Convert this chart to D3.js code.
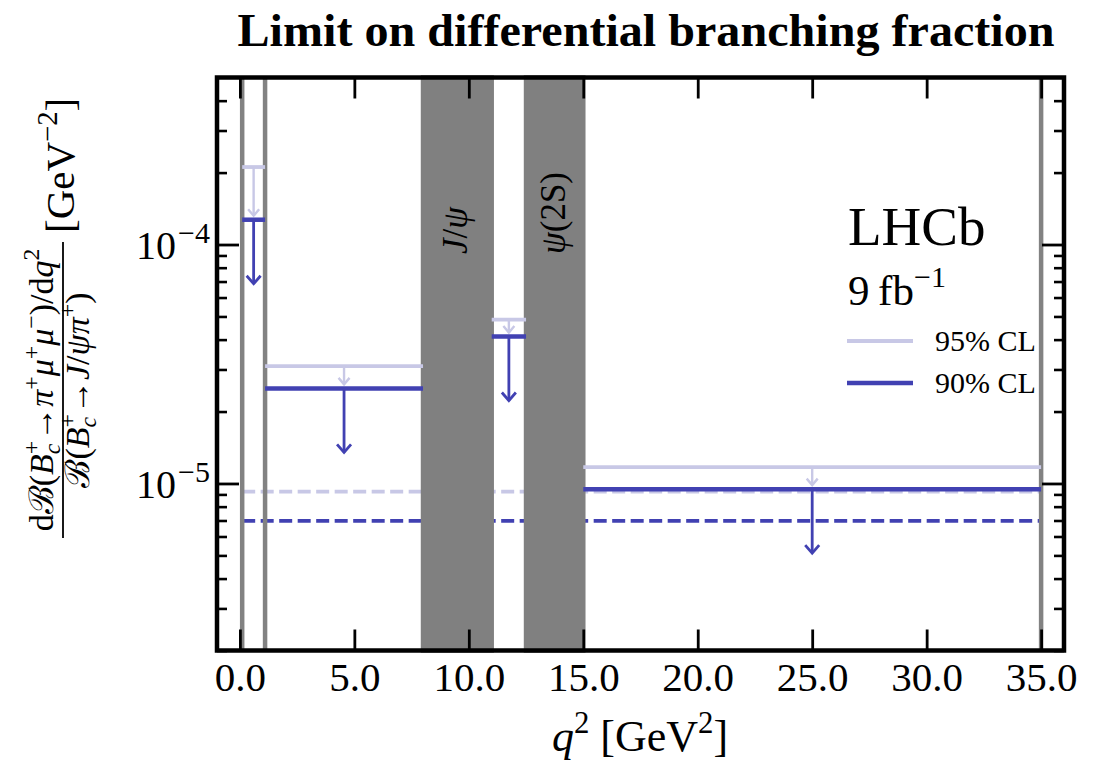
<!DOCTYPE html>
<html>
<head>
<meta charset="utf-8">
<script src="https://cdn.jsdelivr.net/npm/d3@7"></script>
<style>
  html, body { margin: 0; padding: 0; background: #fff; }
  svg { display: block; }
</style>
</head>
<body>
<svg id="chart" width="1101" height="766"></svg>
<script>
// q² bins [GeV²]
const binLow  = [0.1, 1.1, 11.0, 15.0];
const binHigh = [1.1, 8.0, 12.5, 35.0];
// upper limits on dB(Bc+ -> pi+ mu+ mu-)/dq² / B(Bc+ -> J/psi pi+) [GeV^-2]
const limit95 = [2.11e-4, 3.10e-5, 4.85e-5, 1.17e-5];
const limit90 = [1.27e-4, 2.50e-5, 4.12e-5, 9.47e-6];
// limits over the full q² range (dashed)
const fullRange = [0.1, 35.0];
const full95 = 9.25e-6;
const full90 = 6.97e-6;
// charmonium veto regions
const vetoLow    = [8.0, 12.5];
const vetoHigh   = [11.0, 15.0];
const vetoLabels = ["J/ψ", "ψ(2S)"];
// kinematic / bin boundaries drawn as grey lines
const boundaries = [0.1, 1.1, 35.0];
// axis ticks
const xTicks = [0, 5, 10, 15, 20, 25, 30, 35];
const xTickLabels = ["0.0", "5.0", "10.0", "15.0", "20.0", "25.0", "30.0", "35.0"];
const yTicks = [1e-5, 1e-4];
const yTickExp = ["−5", "−4"];
const yMinorTicks = [2e-6,3e-6,4e-6,5e-6,6e-6,7e-6,8e-6,9e-6,
                     2e-5,3e-5,4e-5,5e-5,6e-5,7e-5,8e-5,9e-5,
                     2e-4,3e-4,4e-4];
const legendLabels = ["95% CL", "90% CL"];

const SERIF = "'Liberation Serif', 'DejaVu Serif', serif";
const C90 = "#4141b2";
const C95 = "#c8c8e6";
const GREY = "#828282";
const ITALIC = new Set(["J", "ψ", "q", "B", "π", "μ", "c"]);

const svg = d3.select("#chart");
const x = d3.scaleLinear().domain([-1, 36]).range([217, 1064]);
const y = d3.scaleLog().domain([2e-6, 5e-4]).range([650.5, 77.5]);
const [xl, xr] = x.range();
const [yb, yt] = y.range();

// write a sequence of runs (base / sup / sub, optionally stacked) into a <text>
function writeRuns(text, runs, base) {
  let cur = 0, prevW = 0, pendingDx = 0;
  runs.forEach(r => {
    const pos = r.pos || "base";
    const size = pos === "base" ? base : base * 0.7;
    const off = pos === "sup" ? -0.42 * base : pos === "sub" ? 0.22 * base : 0;
    const ts = text.append("tspan")
      .attr("font-size", size)
      .attr("dy", off - cur);
    cur = off;
    let dx = pendingDx;
    pendingDx = 0;
    if (r.stack) dx -= prevW;
    if (dx) ts.attr("dx", dx);
    // italic for math symbols, upright for the rest
    for (const ch of r.t) {
      ts.append("tspan").attr("font-style", ITALIC.has(ch) ? "italic" : "normal").text(ch);
    }
    const w = ts.node().getComputedTextLength();
    if (r.stack && prevW > w) pendingDx = prevW - w;
    prevW = w;
  });
}

// dashed full-range limits
[[full95, C95], [full90, C90]].forEach(([v, c]) => {
  svg.append("line")
    .attr("x1", x(fullRange[0])).attr("x2", x(fullRange[1]))
    .attr("y1", y(v)).attr("y2", y(v))
    .attr("stroke", c).attr("stroke-width", 3.8)
    .attr("stroke-dasharray", "13,5.5");
});

// boundary lines
svg.selectAll(".bound").data(boundaries).join("line")
  .attr("x1", d => x(d)).attr("x2", d => x(d))
  .attr("y1", yb).attr("y2", yt)
  .attr("stroke", GREY).attr("stroke-width", 4.5);

// veto bands
svg.selectAll(".veto").data(vetoLow).join("rect")
  .attr("x", (d) => x(d))
  .attr("width", (d, i) => x(vetoHigh[i]) - x(d))
  .attr("y", yt).attr("height", yb - yt)
  .attr("fill", "#808080").attr("stroke", "#808080").attr("stroke-width", 4.5);

vetoLabels.forEach((lab, i) => {
  const cx = x((vetoLow[i] + vetoHigh[i]) / 2) + 10;
  const t = svg.append("text")
    .attr("transform", `translate(${cx},254) rotate(-90)`)
    .attr("font-family", SERIF).attr("fill", "#000");
  writeRuns(t, [{ t: lab }], 35);
});

// bin limits: bars and arrows
function chevron(cx, tip, hw, hh) {
  return `M${cx - hw},${tip - hh}L${cx},${tip}L${cx + hw},${tip - hh}`;
}
binLow.forEach((lo, i) => {
  const hi = binHigh[i];
  const cx = x((lo + hi) / 2);
  // 95% bar + arrow down to the 90% bar
  const y95 = y(limit95[i]), y90 = y(limit90[i]);
  svg.append("line").attr("x1", x(lo)).attr("x2", x(hi)).attr("y1", y95).attr("y2", y95)
    .attr("stroke", C95).attr("stroke-width", 3.8);
  const tip95 = y90 - 4;
  svg.append("line").attr("x1", cx).attr("x2", cx).attr("y1", y95).attr("y2", tip95)
    .attr("stroke", C95).attr("stroke-width", 2.4);
  svg.append("path").attr("d", chevron(cx, tip95, 5.5, 6.5))
    .attr("fill", "none").attr("stroke", C95).attr("stroke-width", 2.4);
  // 90% bar + arrow
  svg.append("line").attr("x1", x(lo)).attr("x2", x(hi)).attr("y1", y90).attr("y2", y90)
    .attr("stroke", C90).attr("stroke-width", 4.5);
  const tip90 = y90 + 64;
  svg.append("line").attr("x1", cx).attr("x2", cx).attr("y1", y90).attr("y2", tip90)
    .attr("stroke", C90).attr("stroke-width", 2.8);
  svg.append("path").attr("d", chevron(cx, tip90, 7, 8))
    .attr("fill", "none").attr("stroke", C90).attr("stroke-width", 2.8);
});

// axes (ticks inward)
const axB = svg.append("g").attr("transform", `translate(0,${yb})`)
  .call(d3.axisBottom(x).tickValues(xTicks).tickSize(-21).tickPadding(11)
    .tickFormat((d, i) => xTickLabels[i]));
const axT = svg.append("g").attr("transform", `translate(0,${yt})`)
  .call(d3.axisTop(x).tickValues(xTicks).tickSize(-21).tickFormat(""));
const axL = svg.append("g").attr("transform", `translate(${xl},0)`)
  .call(d3.axisLeft(y).tickValues(yTicks).tickSize(-22).tickPadding(7).tickFormat(""));
const axLm = svg.append("g").attr("transform", `translate(${xl},0)`)
  .call(d3.axisLeft(y).tickValues(yMinorTicks).tickSize(-10).tickFormat(""));
const axR = svg.append("g").attr("transform", `translate(${xr},0)`)
  .call(d3.axisRight(y).tickValues(yTicks).tickSize(-22).tickFormat(""));
const axRm = svg.append("g").attr("transform", `translate(${xr},0)`)
  .call(d3.axisRight(y).tickValues(yMinorTicks).tickSize(-10).tickFormat(""));

[axB, axT, axL, axLm, axR, axRm].forEach(g => {
  g.select(".domain").remove();
  g.selectAll(".tick line").attr("stroke", "#000").attr("stroke-width", 2.8);
});
axLm.selectAll(".tick line").attr("stroke-width", 2.6);
axRm.selectAll(".tick line").attr("stroke-width", 2.6);
axB.selectAll(".tick text").attr("font-family", SERIF).attr("font-size", 41).attr("fill", "#000");

// power-of-ten labels on the y axis
axL.selectAll(".tick").each(function (d, i) {
  const t = d3.select(this).append("text")
    .attr("x", -7).attr("y", 0).attr("dy", 14)
    .attr("text-anchor", "end")
    .attr("font-family", SERIF).attr("fill", "#000");
  t.append("tspan").attr("font-size", 40).text("10");
  t.append("tspan").attr("font-size", 30).attr("dy", -16).attr("dx", 2).text(yTickExp[i]);
});

// frame
svg.append("rect").attr("x", xl).attr("y", yt).attr("width", xr - xl).attr("height", yb - yt)
  .attr("fill", "none").attr("stroke", "#000").attr("stroke-width", 4.5);

// title
svg.append("text").attr("x", 646).attr("y", 46).attr("text-anchor", "middle")
  .attr("font-family", SERIF).attr("font-weight", "bold").attr("font-size", 46)
  .attr("textLength", 817).attr("lengthAdjust", "spacingAndGlyphs")
  .attr("fill", "#000").text("Limit on differential branching fraction");

// x-axis title
const xt = svg.append("text").attr("x", 640).attr("y", 751).attr("text-anchor", "middle")
  .attr("font-family", SERIF).attr("fill", "#000");
writeRuns(xt, [{ t: "q" }, { t: "2", pos: "sup" }, { t: " [GeV" }, { t: "2", pos: "sup" }, { t: "]" }], 44);

// y-axis title: fraction followed by unit
const yg = svg.append("g").attr("transform", "translate(63,390) rotate(-90)");
const num = yg.append("text").attr("x", 0).attr("y", -10).attr("text-anchor", "middle")
  .attr("font-family", SERIF).attr("fill", "#000");
writeRuns(num, [
  { t: "dℬ(B" }, { t: "+", pos: "sup" }, { t: "c", pos: "sub", stack: true },
  { t: "→π" }, { t: "+", pos: "sup" }, { t: "μ" }, { t: "+", pos: "sup" },
  { t: "μ" }, { t: "−", pos: "sup" }, { t: ")/dq" }, { t: "2", pos: "sup" }
], 34);
const den = yg.append("text").attr("x", 0).attr("y", 26).attr("text-anchor", "middle")
  .attr("font-family", SERIF).attr("fill", "#000");
writeRuns(den, [
  { t: "ℬ(B" }, { t: "+", pos: "sup" }, { t: "c", pos: "sub", stack: true },
  { t: "→J/ψπ" }, { t: "+", pos: "sup" }, { t: ")" }
], 34);
yg.append("line").attr("x1", -148).attr("x2", 148).attr("y1", 0).attr("y2", 0)
  .attr("stroke", "#000").attr("stroke-width", 1.8);
const unit = yg.append("text").attr("x", 157).attr("y", 11)
  .attr("font-family", SERIF).attr("fill", "#000");
writeRuns(unit, [{ t: "[GeV" }, { t: "−2", pos: "sup" }, { t: "]" }], 41);

// experiment label
svg.append("text").attr("x", 848).attr("y", 245).attr("font-family", SERIF)
  .attr("font-size", 55).attr("fill", "#000").text("LHCb");
const lumi = svg.append("text").attr("x", 848).attr("y", 305).attr("font-family", SERIF).attr("fill", "#000");
writeRuns(lumi, [{ t: "9\u2009fb" }, { t: "−1", pos: "sup" }], 43);

// legend
[C95, C90].forEach((c, i) => {
  const ly = 341 + i * 42;
  svg.append("line").attr("x1", 847).attr("x2", 913).attr("y1", ly).attr("y2", ly)
    .attr("stroke", c).attr("stroke-width", i === 0 ? 3.8 : 4.5);
  svg.append("text").attr("x", 935).attr("y", ly + 10).attr("font-family", SERIF)
    .attr("font-size", 30).attr("fill", "#000").text(legendLabels[i]);
});
</script>
</body>
</html>
